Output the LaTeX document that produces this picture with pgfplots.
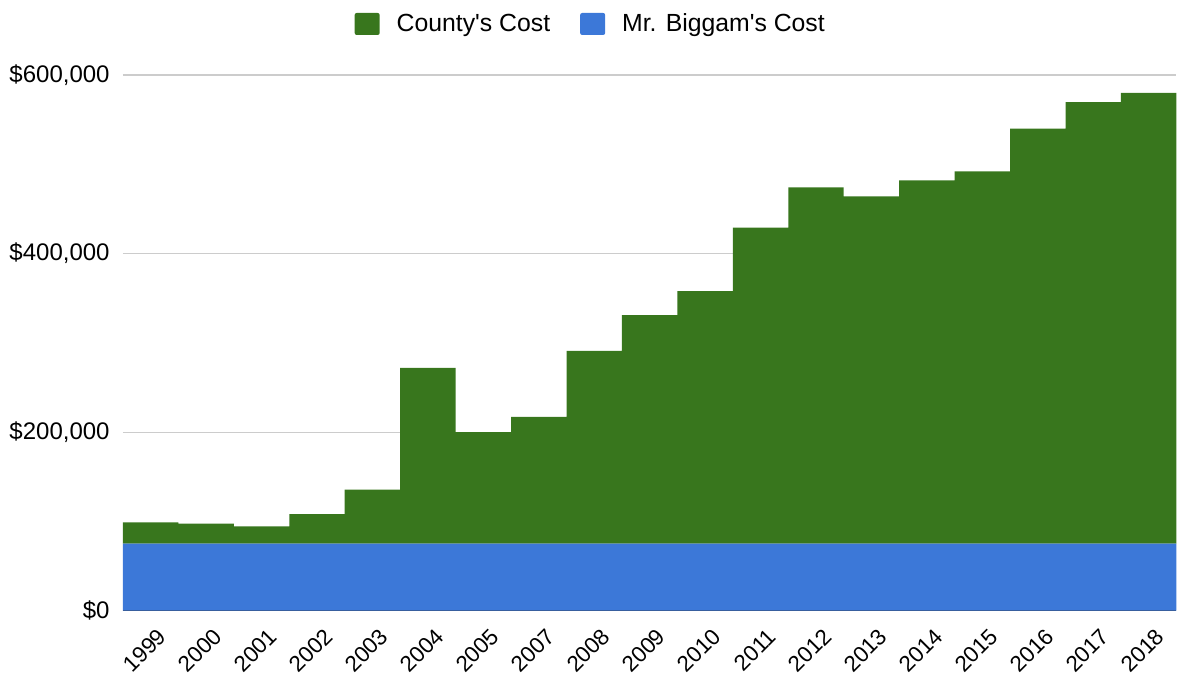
\documentclass[border=0pt]{standalone}
\usepackage{fontspec}
\setmainfont{Liberation Sans}
\usepackage{pgfplots}
\pgfplotsset{compat=1.18}
\definecolor{cgreen}{HTML}{38761D}
\definecolor{cblue}{HTML}{3C78D8}
\definecolor{cgrid}{HTML}{CCCCCC}
\begin{document}
\begin{tikzpicture}
\begin{axis}[name=ax, scale only axis, width=527pt, height=268pt,
  xmin=0, xmax=19, ymin=0, ymax=600000,
  stack plots=y,
  axis line style={draw=none},
  major tick length=0pt,
  xtick={0.5,1.5,...,18.5},
  xticklabels={1999,2000,2001,2002,2003,2004,2005,2007,2008,2009,2010,2011,2012,2013,2014,2015,2016,2017,2018},
  xticklabel style={font=\fontsize{11.2}{13}\selectfont, xshift=3pt, yshift=-8pt, rotate=45, anchor=north east, inner sep=0pt},
  ytick={0,200000,400000,600000},
  yticklabels={\$0,{\$200,000},{\$400,000},{\$600,000}},
  scaled y ticks=false,
  yticklabel style={font=\fontsize{12}{14}\selectfont, inner sep=0pt, xshift=-6.5pt},
  ymajorgrids, major grid style={cgrid, line width=0.6pt},
  reverse legend,
  legend columns=2,
  legend style={draw=none, fill=none, at={(0.445,1)}, anchor=center, yshift=25.5pt,
    font=\fontsize{12.4}{14}\selectfont,
    /tikz/every odd column/.append style={column sep=6.5pt},
    /tikz/every even column/.append style={column sep=13pt}},
  legend image code/.code={\fill[#1, rounded corners=1pt] (0pt,-5.5pt) rectangle (12.5pt,5.5pt);},
]
\addplot[fill=cblue, draw=none, const plot mark left] coordinates {
(0,75000) (1,75000) (2,75000) (3,75000) (4,75000) (5,75000) (6,75000) (7,75000) (8,75000) (9,75000)
(10,75000) (11,75000) (12,75000) (13,75000) (14,75000) (15,75000) (16,75000) (17,75000) (18,75000) (19,75000)
} \closedcycle;
\addlegendentry{Mr. Biggam\textquotesingle s Cost}
\addplot[fill=cgreen, draw=none, const plot mark left] coordinates {
(0,24000) (1,22500) (2,19500) (3,33000) (4,60500) (5,197000) (6,125000) (7,142000) (8,216000) (9,256000)
(10,283000) (11,354000) (12,399000) (13,389000) (14,407000) (15,417000) (16,465000) (17,494500) (18,505000) (19,505000)
} \closedcycle;
\addlegendentry{County\textquotesingle s Cost}
\draw[black!80, line width=1pt] (rel axis cs:0,0) -- (rel axis cs:1,0);
\end{axis}
\path ([xshift=-61.5pt,yshift=-32pt]ax.south west) rectangle ([yshift=37.5pt]ax.north east);
\end{tikzpicture}
\end{document}
